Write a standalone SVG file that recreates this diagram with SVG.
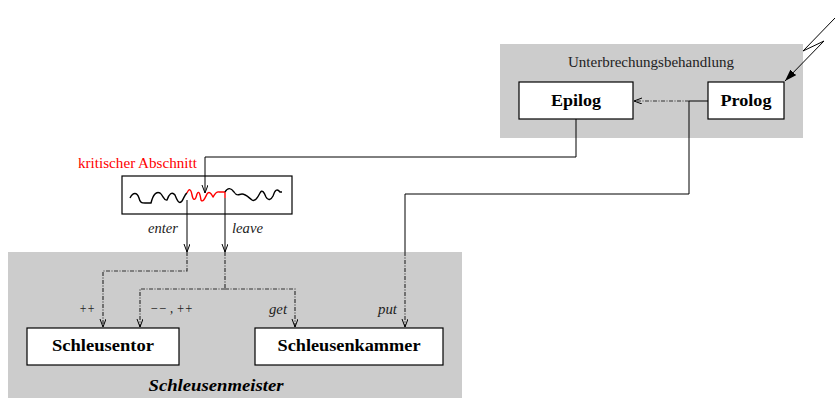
<svg xmlns="http://www.w3.org/2000/svg" width="836" height="398" viewBox="0 0 836 398">
<defs>
<style>
.grp{fill:#cccccc;stroke:none}
.box{fill:#ffffff;stroke:#000;stroke-width:1.2}
.lbl{font-family:"Liberation Serif","Times New Roman",serif;font-weight:bold;font-size:17px;fill:#000;text-anchor:middle}
.ttl{font-family:"Liberation Serif","Times New Roman",serif;font-size:15px;fill:#222}
.it{font-family:"Liberation Serif","Times New Roman",serif;font-style:italic;font-size:14px;fill:#222}
.solid{fill:none;stroke:#000;stroke-width:1}
.dd{fill:none;stroke:#333;stroke-width:1.2;stroke-dasharray:4 1.5 1 1.5}
</style>
<marker id="open" markerWidth="10" markerHeight="10" refX="8" refY="3" orient="auto" markerUnits="userSpaceOnUse">
<path d="M0,0 L8,3 L0,6" fill="none" stroke="#000" stroke-width="1"/>
</marker>
<marker id="fill" markerWidth="14" markerHeight="10" refX="12" refY="4" orient="auto" markerUnits="userSpaceOnUse">
<path d="M0,0 L12,4 L0,8 Z" fill="#000"/>
</marker>
</defs>

<g id="unterbrechungsbehandlung">
<rect class="grp" x="500" y="44" width="303" height="94"/>
<text class="ttl" x="568" y="67" textLength="166" lengthAdjust="spacingAndGlyphs">Unterbrechungsbehandlung</text>
</g>
<g id="schleusenmeister">
<rect class="grp" x="8" y="252" width="454" height="146"/>
<text x="216" y="391" font-family="Liberation Serif, Times New Roman, serif" font-weight="bold" font-style="italic" font-size="17" text-anchor="middle" textLength="135" lengthAdjust="spacingAndGlyphs">Schleusenmeister</text>
</g>

<g id="epilog">
<rect class="box" x="519" y="82" width="114" height="37"/>
<text class="lbl" x="576" y="106" textLength="50" lengthAdjust="spacingAndGlyphs">Epilog</text>
</g>
<g id="prolog">
<rect class="box" x="708" y="82" width="76" height="37"/>
<text class="lbl" x="746" y="106" textLength="51" lengthAdjust="spacingAndGlyphs">Prolog</text>
</g>
<g id="schleusentor">
<rect class="box" x="27" y="328" width="152" height="37"/>
<text class="lbl" x="103" y="351" textLength="102" lengthAdjust="spacingAndGlyphs">Schleusentor</text>
</g>
<g id="schleusenkammer">
<rect class="box" x="255" y="328" width="188" height="37"/>
<text class="lbl" x="349" y="351" textLength="143" lengthAdjust="spacingAndGlyphs">Schleusenkammer</text>
</g>

<g id="kritischer-abschnitt">
<text x="78" y="168" font-family="Liberation Serif, Times New Roman, serif" font-size="15" fill="#ff0000" textLength="119" lengthAdjust="spacingAndGlyphs">kritischer Abschnitt</text>
<rect x="122" y="176" width="170" height="38" fill="#fff" stroke="#000" stroke-width="1.2"/>
<path fill="none" stroke="#000" stroke-width="1.4" stroke-linejoin="round" d="M130,198 C133,192 137,192 139,198 C140,203 142,203 145,203 L151,203 C153,195 156,191 160,193 C163,195 164,201 167,200 C169,194 172,191 175,195 C177,200 179,205 182,201 C184,198 185,194 187,193"/>
<path fill="none" stroke="#ff0000" stroke-width="1.4" stroke-linejoin="round" d="M187,193 C189,188 191,189 192,195 C193,200 195,202 197,194 C199,190 200,194 201,200 C203,203 205,198 207,194 C209,191 211,193 213,197 C215,194 216,191 219,192 L225,192 L225,198"/>
<path fill="none" stroke="#000" stroke-width="1.4" stroke-linejoin="round" d="M225,192 C228,187 231,188 234,192 C237,197 239,194 242,194 C246,194 249,198 252,200 C255,202 258,197 260,193 C262,189 264,192 266,197 C268,201 271,200 273,196 C275,190 277,188 280,192 L282,192"/>
</g>

<g id="connectors">
<polyline class="solid" points="835,18 803,51 824,41 785,81" marker-end="url(#fill)"/>
<line class="solid" x1="708" y1="101" x2="689" y2="101"/>
<line class="dd" x1="689" y1="101" x2="634" y2="101" marker-end="url(#open)"/>
<polyline class="solid" points="576,119 576,157 205,157 205,193" marker-end="url(#open)"/>
<polyline class="solid" points="689,101 689,194 405,194 405,252"/>
<line class="dd" x1="405" y1="252" x2="405" y2="327" marker-end="url(#open)"/>
<line class="solid" x1="187" y1="200" x2="187" y2="252" marker-end="url(#open)"/>
<polyline class="dd" points="187,252 187,271 103,271 103,327" marker-end="url(#open)"/>
<line class="solid" x1="225" y1="198" x2="225" y2="252" marker-end="url(#open)"/>
<line class="dd" x1="225" y1="252" x2="225" y2="289"/>
<polyline class="dd" points="225,289 140,289 140,327" marker-end="url(#open)"/>
<polyline class="dd" points="225,289 295,289 295,327" marker-end="url(#open)"/>
</g>

<g id="labels">
<text class="it" x="148" y="233" textLength="30" lengthAdjust="spacingAndGlyphs">enter</text>
<text class="it" x="232" y="233" textLength="31" lengthAdjust="spacingAndGlyphs">leave</text>
<text class="it" x="79" y="313" textLength="16" lengthAdjust="spacingAndGlyphs">++</text>
<text class="it" x="150" y="313" textLength="43" lengthAdjust="spacingAndGlyphs">−− , ++</text>
<text class="it" x="269" y="314" textLength="18" lengthAdjust="spacingAndGlyphs">get</text>
<text class="it" x="378" y="314" textLength="19" lengthAdjust="spacingAndGlyphs">put</text>
</g>
</svg>
